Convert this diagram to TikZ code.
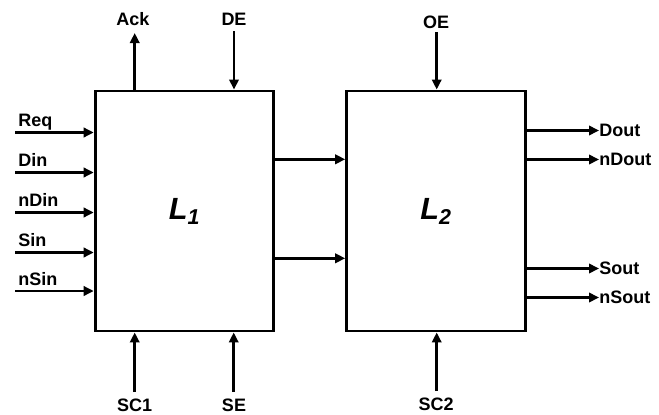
\documentclass[tikz,border=0pt]{standalone}
\usepackage{fontspec}
\setmainfont{Liberation Sans}
\usetikzlibrary{arrows.meta, positioning}

\begin{document}
\begin{tikzpicture}[x=0.75pt, y=-0.75pt,
  latch/.style={rectangle, draw=black, fill=white, line width=2.2pt, minimum width=134pt, minimum height=180pt, inner sep=0pt},
  lbl/.style={font=\bfseries\fontsize{13.5}{15}\selectfont, inner sep=0pt},
  arrow/.style={line width=1.9pt, -{Triangle[length=7.5pt, width=7pt]}}]

\useasboundingbox (0,0) rectangle (659,414);

% the two latches
\node[latch] (L1) at (184.5,211) {\fontsize{23}{26}\selectfont\bfseries\itshape L\textsubscript{1}};
\node[latch] (L2) at (436,211) {\fontsize{23}{26}\selectfont\bfseries\itshape L\textsubscript{2}};

% inputs of L1
\coordinate (req) at (15,132.5);
\coordinate (din) at (15,172.5);
\coordinate (ndin) at (15,212.5);
\coordinate (sin) at (15,252.5);
\coordinate (nsin) at (15,291);
\node[lbl, anchor=base west] (tReq) at (18,126) {Req};
\node[lbl, anchor=base west] (tDin) at (18,166) {Din};
\node[lbl, anchor=base west] (tnDin) at (18,206) {nDin};
\node[lbl, anchor=base west] (tSin) at (18,246) {Sin};
\node[lbl, anchor=base west] (tnSin) at (18,285) {nSin};
\draw[arrow] (req) -- (req -| L1.west);
\draw[arrow] (din) -- (din -| L1.west);
\draw[arrow] (ndin) -- (ndin -| L1.west);
\draw[arrow] (sin) -- (sin -| L1.west);
\draw[arrow] (nsin) -- (nsin -| L1.west);

% top signals
\coordinate (ack) at (134.7,33);
\coordinate (de) at (234,31);
\coordinate (oe) at (436.7,32);
\node[lbl, anchor=base] (tAck) at (133,26) {Ack};
\node[lbl, anchor=base] (tDE) at (234,26) {DE};
\node[lbl, anchor=base] (tOE) at (436,28) {OE};
\draw[arrow] (L1.north -| ack) -- (ack);
\draw[arrow] (de) -- (de |- L1.north);
\draw[arrow] (oe) -- (oe |- L2.north);

% bottom signals
\coordinate (sc1) at (134.7,392);
\coordinate (se) at (233.7,392);
\coordinate (sc2) at (436.7,391);
\node[lbl, anchor=base] (tSC1) at (134.7,411.5) {SC1};
\node[lbl, anchor=base] (tSE) at (234,411.5) {SE};
\node[lbl, anchor=base] (tSC2) at (436,410) {SC2};
\draw[arrow] (sc1) -- (sc1 |- L1.south);
\draw[arrow] (se) -- (se |- L1.south);
\draw[arrow] (sc2) -- (sc2 |- L2.south);

% L1 to L2
\coordinate (up) at (280,159.3);
\coordinate (dn) at (280,258.3);
\draw[arrow] (up -| L1.east) -- (up -| L2.west);
\draw[arrow] (dn -| L1.east) -- (dn -| L2.west);

% outputs of L2
\node[lbl, anchor=west] (tDout) at (599,130.5) {Dout};
\node[lbl, anchor=west] (tnDout) at (599,159.5) {nDout};
\node[lbl, anchor=west] (tSout) at (599,268.5) {Sout};
\node[lbl, anchor=west] (tnSout) at (599,297.5) {nSout};
\draw[arrow] (tDout.west -| L2.east) -- (tDout.west);
\draw[arrow] (tnDout.west -| L2.east) -- (tnDout.west);
\draw[arrow] (tSout.west -| L2.east) -- (tSout.west);
\draw[arrow] (tnSout.west -| L2.east) -- (tnSout.west);

\end{tikzpicture}
\end{document}
